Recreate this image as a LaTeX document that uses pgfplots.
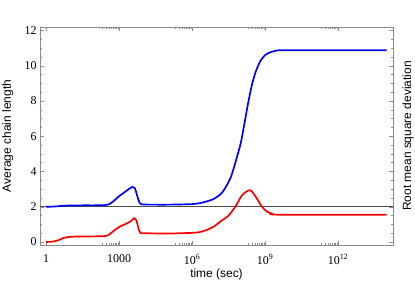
\documentclass[border=0pt]{standalone}
\usepackage{fontspec}
\setmainfont{Liberation Serif}
\newfontfamily\arial{Liberation Sans}
\usepackage{pgfplots}
\pgfplotsset{compat=1.18}
\definecolor{framegray}{gray}{0.55}
\begin{document}
\begin{tikzpicture}
\useasboundingbox (-40bp,-44bp) rectangle (375bp,245bp);
\begin{axis}[name=ax, at={(0,0)}, anchor=south west,
  scale only axis, width=353bp, height=218bp,
  xmode=log, log basis x=10,
  xmin=0.562, xmax=1.82e14, ymin=-0.17, ymax=12.2,
  axis line style={framegray, line width=0.6bp},
  tick style={framegray, line width=0.5bp},
  major tick length=4bp, minor tick length=2.5bp,
  tick align=inside,
  xtick={1,1000,1e6,1e9,1e12},
  xticklabels={1,1000,10\textsuperscript{6},10\textsuperscript{9},10\textsuperscript{12}},
  minor xtick={200,300,400,500,600,700,800,900,2e5,3e5,4e5,5e5,6e5,7e5,8e5,9e5,2e8,3e8,4e8,5e8,6e8,7e8,8e8,9e8,2e11,3e11,4e11,5e11,6e11,7e11,8e11,9e11},
  ytick={0,2,4,6,8,10,12},
  minor ytick={0.5,1,1.5,2.5,3,3.5,4.5,5,5.5,6.5,7,7.5,8.5,9,9.5,10.5,11,11.5},
  ticklabel style={font=\fontsize{12}{14}\selectfont},
  xticklabel style={yshift=-6bp},
  /pgf/number format/assume math mode=true,
  xlabel={time (sec)}, ylabel={Average chain length},
  label style={font=\arial\fontsize{12}{14}\selectfont},
  xlabel style={at={(axis description cs:0.5,-0.133)}, anchor=center},
  ylabel style={at={(axis description cs:-0.091,0.5)}, anchor=center},
]
\addplot[gray!60!black, line width=0.6bp] coordinates {(0.562,2) (1.82e14,2)};
% blue: average chain length
\addplot[blue, line width=1.7bp, smooth, tension=0.4] coordinates {
(1,2.00) (2,2.01) (3.162,2.03) (5.012,2.06) (10,2.07) (31.62,2.08) (100,2.08)
(251.2,2.09) (398.1,2.15) (631,2.35) (1000,2.6) (1585,2.8) (2512,3.0)
(3548,3.13) (4467,3.05) (5623,2.6) (7079,2.2) (8913,2.13) (3.162e4,2.12)
(1e5,2.12) (3.162e5,2.13) (1e6,2.15) (1.995e6,2.2) (3.981e6,2.3) (7.943e6,2.45)
(1.585e7,2.75) (2.512e7,3.15) (3.981e7,3.7) (6.31e7,4.6) (1e8,5.6)
(1.413e8,6.7) (1.995e8,7.85) (2.818e8,8.85) (3.981e8,9.6) (6.31e8,10.25)
(1e9,10.6) (1.585e9,10.76) (2.818e9,10.85) (6.31e9,10.88) (1e14,10.88)};
% red: root mean square deviation
\addplot[red, line width=1.7bp, smooth, tension=0.4] coordinates {
(1,0.0) (2,0.03) (3.162,0.1) (5.012,0.22) (7.943,0.28) (15.85,0.31) (100,0.32)
(251.2,0.33) (354.8,0.38) (562.3,0.6) (1000,0.85) (1585,0.98) (2818,1.15)
(4169,1.35) (5248,1.2) (6310,0.75) (7586,0.52) (1e4,0.5) (1e5,0.48)
(1e6,0.52) (1.995e6,0.56) (3.981e6,0.68) (7.943e6,0.88) (1.585e7,1.2)
(3.162e7,1.5) (6.31e7,2.05) (1.122e8,2.65) (2.089e8,2.93) (2.818e8,2.88)
(4.467e8,2.5) (7.079e8,2.05) (1.122e9,1.75) (1.995e9,1.6) (3.981e9,1.55)
(1e14,1.55)};
\end{axis}
\node[rotate=90, anchor=center, font=\arial\fontsize{12}{14}\selectfont] at ([xshift=15bp]ax.east) {Root mean square deviation};
\end{tikzpicture}
\end{document}
